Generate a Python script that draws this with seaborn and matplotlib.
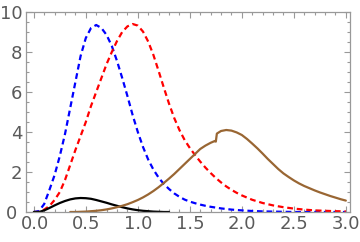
import numpy as np
import pandas as pd
import matplotlib
matplotlib.use("Agg")
import matplotlib.pyplot as plt
import matplotlib.transforms as mtransforms
import seaborn as sns
from matplotlib.ticker import MultipleLocator

# valores
x_azul = [0.00, 0.05, 0.10, 0.15, 0.20, 0.25, 0.30, 0.35, 0.40, 0.45, 0.50, 0.55,
          0.60, 0.65, 0.70, 0.75, 0.80, 0.85, 0.90, 0.95, 1.00, 1.05, 1.10, 1.15,
          1.20, 1.25, 1.30, 1.35, 1.40, 1.45, 1.50, 1.55, 1.60, 1.65, 1.70, 1.75,
          1.80, 1.85, 1.90, 1.95, 2.00, 2.10, 2.20, 2.30, 2.40, 2.50, 2.75, 3.00]
y_azul = [0.00, 0.05, 0.40, 1.10, 1.85, 2.80, 3.90, 5.20, 6.50, 7.80, 8.70, 9.20,
          9.35, 9.20, 8.85, 8.30, 7.55, 6.70, 5.80, 4.85, 4.00, 3.25, 2.62, 2.12,
          1.72, 1.40, 1.15, 0.93, 0.76, 0.62, 0.52, 0.44, 0.37, 0.31, 0.26, 0.22,
          0.18, 0.15, 0.12, 0.10, 0.08, 0.05, 0.03, 0.02, 0.01, 0.00, 0.00, 0.00]

x_rojo = [0.00, 0.05, 0.10, 0.15, 0.20, 0.25, 0.30, 0.35, 0.40, 0.45, 0.50, 0.55,
          0.60, 0.65, 0.70, 0.75, 0.80, 0.85, 0.90, 0.95, 1.00, 1.05, 1.10, 1.15,
          1.20, 1.25, 1.30, 1.35, 1.40, 1.45, 1.50, 1.55, 1.60, 1.65, 1.70, 1.75,
          1.80, 1.85, 1.90, 1.95, 2.00, 2.10, 2.20, 2.30, 2.40, 2.50, 2.60, 2.70,
          2.80, 2.90, 3.00]
y_rojo = [0.00, 0.00, 0.12, 0.30, 0.60, 1.00, 1.60, 2.35, 3.10, 3.80, 4.50, 5.30,
          6.00, 6.70, 7.40, 8.00, 8.55, 9.00, 9.28, 9.40, 9.32, 9.02, 8.52, 7.85,
          7.05, 6.22, 5.42, 4.70, 4.10, 3.60, 3.20, 2.85, 2.52, 2.22, 1.95, 1.70,
          1.48, 1.28, 1.11, 0.96, 0.83, 0.61, 0.45, 0.33, 0.24, 0.17, 0.12, 0.08,
          0.06, 0.04, 0.03]

x_negro = [0.00, 0.05, 0.10, 0.15, 0.20, 0.25, 0.30, 0.35, 0.40, 0.45, 0.50, 0.55,
           0.60, 0.65, 0.70, 0.75, 0.80, 0.85, 0.90, 0.95, 1.00, 1.05, 1.10, 1.15,
           1.20, 1.25, 1.30]
y_negro = [0.00, 0.00, 0.08, 0.20, 0.33, 0.45, 0.55, 0.63, 0.68, 0.70, 0.69, 0.66,
           0.60, 0.53, 0.46, 0.38, 0.31, 0.24, 0.18, 0.13, 0.09, 0.06, 0.04, 0.02,
           0.01, 0.00, 0.00]

x_cafe = [0.35, 0.40, 0.45, 0.50, 0.55, 0.60, 0.65, 0.70, 0.75, 0.80, 0.85, 0.90,
          0.95, 1.00, 1.05, 1.10, 1.15, 1.20, 1.25, 1.30, 1.35, 1.40, 1.45, 1.50,
          1.55, 1.60, 1.65, 1.70, 1.74, 1.75, 1.76, 1.80, 1.85, 1.90, 1.95, 2.00,
          2.05, 2.10, 2.15, 2.20, 2.25, 2.30, 2.35, 2.40, 2.45, 2.50, 2.55, 2.60,
          2.65, 2.70, 2.75, 2.80, 2.85, 2.90, 2.95, 3.00]
y_cafe = [0.00, 0.00, 0.01, 0.02, 0.04, 0.06, 0.09, 0.13, 0.18, 0.24, 0.31, 0.39,
          0.49, 0.60, 0.73, 0.88, 1.05, 1.24, 1.45, 1.67, 1.90, 2.15, 2.40, 2.65,
          2.90, 3.15, 3.32, 3.46, 3.55, 3.52, 3.92, 4.05, 4.10, 4.07, 3.98, 3.85,
          3.65, 3.42, 3.18, 2.92, 2.65, 2.40, 2.15, 1.93, 1.75, 1.58, 1.43, 1.30,
          1.19, 1.08, 0.98, 0.89, 0.80, 0.72, 0.64, 0.57]

x_ticks = [0.0, 0.5, 1.0, 1.5, 2.0, 2.5, 3.0]
y_ticks = [0, 2, 4, 6, 8, 10]


def main():
    sns.set_style("ticks")
    plt.rcParams['font.family'] = ['DejaVu Sans']

    fig = plt.figure(figsize=(3.6, 2.42), dpi=100)
    ax = fig.add_axes([26 / 360, 30 / 242, 324 / 360, 200 / 242])

    sns.lineplot(x=x_azul, y=y_azul, ax=ax, color='#0000ff', lw=1.6,
                 estimator=None, sort=False)
    sns.lineplot(x=x_rojo, y=y_rojo, ax=ax, color='#ff0000', lw=1.6,
                 estimator=None, sort=False)
    sns.lineplot(x=x_negro, y=y_negro, ax=ax, color='black', lw=1.6,
                 estimator=None, sort=False)
    sns.lineplot(x=x_cafe, y=y_cafe, ax=ax, color='#996633', lw=1.6,
                 estimator=None, sort=False)

    # lineas discontinuas para azul y rojo
    for ln in ax.lines[:2]:
        ln.set_linestyle((0, (2.6, 1.7)))
        ln.set_dash_capstyle('butt')

    ax.set_xlim(-0.075, 3.04)
    ax.set_ylim(0, 10)
    ax.set_xticks(x_ticks)
    ax.set_xticklabels(["{0:.1f}".format(v) for v in x_ticks])
    ax.set_yticks(y_ticks)
    ax.set_yticklabels([str(v) for v in y_ticks])
    ax.xaxis.set_minor_locator(MultipleLocator(0.1))
    ax.yaxis.set_minor_locator(MultipleLocator(0.5))

    marco = '#999999'
    for s in ax.spines.values():
        s.set_color(marco)
        s.set_linewidth(0.9)
    ax.tick_params(which='both', direction='in', top=True, right=True,
                   color=marco, width=0.8)
    ax.tick_params(which='major', length=4.5, labelsize=13,
                   labelcolor='#5a5a5a')
    ax.tick_params(axis='x', which='major', pad=2.5)
    ax.tick_params(axis='y', which='major', pad=2.5)
    ax.tick_params(which='minor', length=2.5)
    ax.set_xlabel('')
    ax.set_ylabel('')

    # el "0" del eje y va un poco a la izquierda, como en la original
    etiq0 = ax.get_yticklabels()[0]
    etiq0.set_transform(etiq0.get_transform() +
                        mtransforms.ScaledTranslation(-5 / 100, 0, fig.dpi_scale_trans))
    etiq00 = ax.get_xticklabels()[0]
    etiq00.set_transform(etiq00.get_transform() +
                         mtransforms.ScaledTranslation(1 / 100, 0, fig.dpi_scale_trans))

    plt.savefig('out.png', dpi=100)


if __name__ == '__main__':
    main()
